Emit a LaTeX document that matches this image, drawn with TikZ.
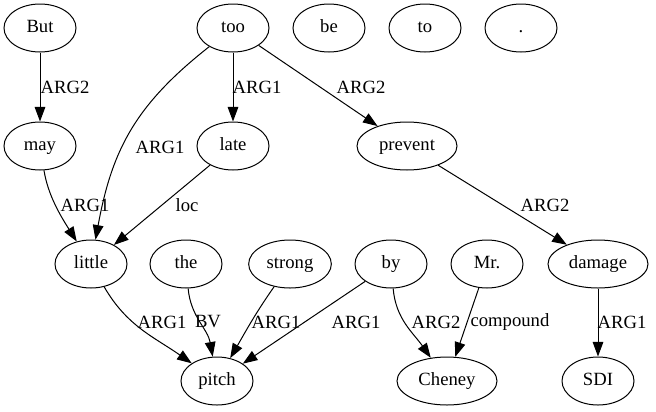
\documentclass[tikz,border=0pt]{standalone}
\usepackage{fontspec}
\setmainfont{Liberation Serif}
\usetikzlibrary{shapes.geometric,arrows.meta}
\begin{document}
\begin{tikzpicture}[x=0.75pt,y=0.75pt,
  word/.style={draw,ellipse,line width=0.75pt,inner sep=0pt,minimum width=54pt,minimum height=36pt,font=\fontsize{14pt}{16pt}\selectfont,text height=9.5pt,text depth=3pt},
  lbl/.style={font=\fontsize{14pt}{16pt}\selectfont,inner sep=0pt},
  rel/.style={line width=0.75pt,-{Triangle[length=11pt,width=8pt]}}]
\useasboundingbox (0,0) rectangle (656,-411);
\node[word] (but) at (40,-28) {But};
\node[word] (too) at (233,-28) {too};
\node[word] (be) at (329,-28) {be};
\node[word] (to) at (425,-28) {to};
\node[word] (dot) at (521,-28) {.};
\node[word] (may) at (40,-146) {may};
\node[word] (late) at (233,-146) {late};
\node[word,minimum width=75pt] (prevent) at (407,-146) {prevent};
\node[word] (little) at (91,-264) {little};
\node[word] (the) at (186,-264) {the};
\node[word,minimum width=62pt] (strong) at (290,-264) {strong};
\node[word] (by) at (391,-264) {by};
\node[word] (mr) at (487,-264) {Mr.};
\node[word,minimum width=75pt] (damage) at (598,-264) {damage};
\node[word] (pitch) at (217,-381) {pitch};
\node[word,minimum width=75pt] (cheney) at (447,-381) {Cheney};
\node[word] (sdi) at (598,-381) {SDI};

\draw[rel] (but) -- (may) node[lbl] at (65,-87) {ARG2};
\draw[rel] (too) -- (late) node[lbl] at (257,-87) {ARG1};
\draw[rel] (too) -- (prevent) node[lbl] at (361,-87) {ARG2};
\draw[rel] (too) .. controls (135,-105) and (112,-150) .. (little) node[lbl] at (160,-147) {ARG1};
\draw[rel] (may) .. controls (48,-195) and (60,-215) .. (little) node[lbl] at (85,-205) {ARG1};
\draw[rel] (late) -- (little) node[lbl] at (187,-205) {loc};
\draw[rel] (prevent) -- (damage) node[lbl] at (545,-205) {ARG2};
\draw[rel] (little) to[out=-60,in=145] (pitch) node[lbl] at (162,-322) {ARG1};
\draw[rel] (the) to[out=-85,in=100] (pitch) node[lbl] at (208,-322) {BV};
\draw[rel] (strong) to[out=-125,in=60] (pitch) node[lbl] at (276,-322) {ARG1};
\draw[rel] (by) -- (pitch) node[lbl] at (356,-322) {ARG1};
\draw[rel] (by) to[out=-85,in=125] (cheney) node[lbl] at (436,-322) {ARG2};
\draw[rel] (mr) -- (cheney) node[lbl] at (510,-322) {compound};
\draw[rel] (damage) -- (sdi) node[lbl] at (622,-322) {ARG1};
\end{tikzpicture}
\end{document}
